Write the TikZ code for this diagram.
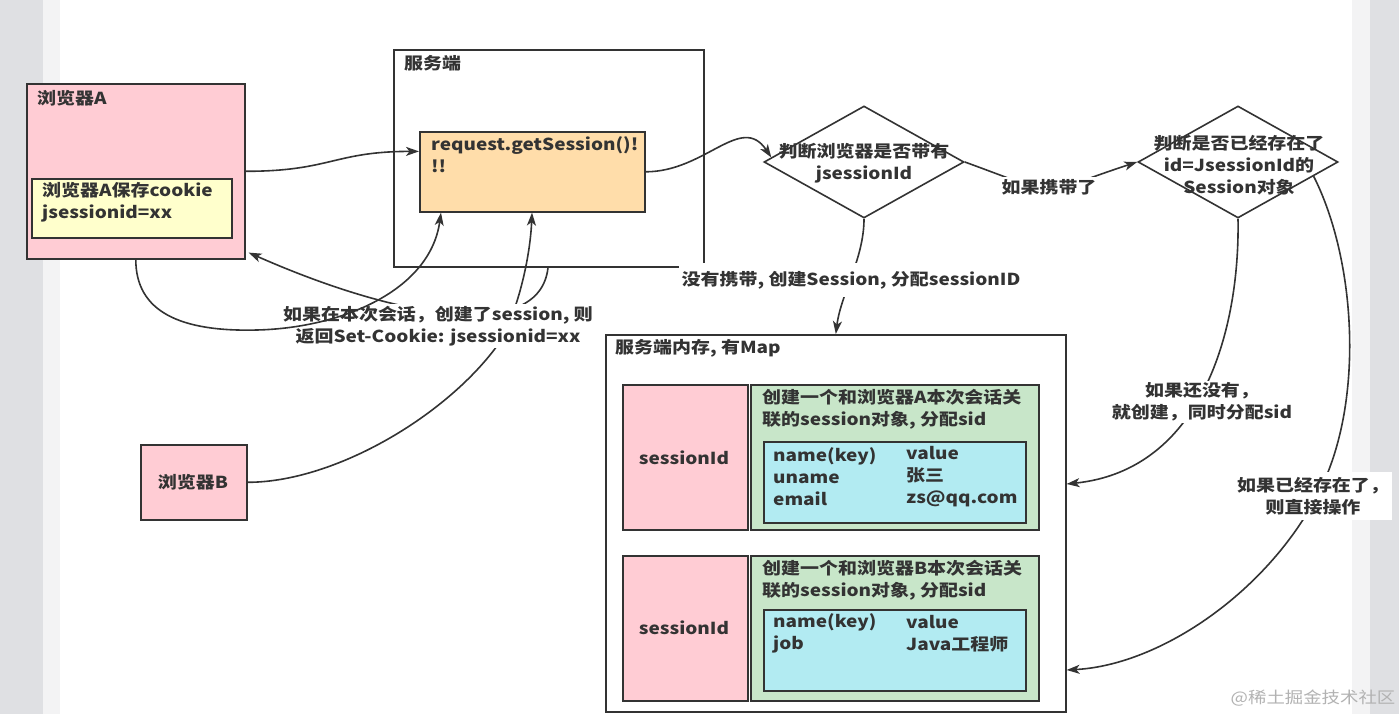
\documentclass[tikz,border=0pt]{standalone}
\usepackage{fontspec}
\setmainfont{Noto Sans CJK SC}[FakeStretch=1.15]
\usetikzlibrary{arrows.meta,calc,shapes.geometric}
\definecolor{lc}{HTML}{333333}
\definecolor{pinkf}{HTML}{FFCCD4}
\definecolor{yelf}{HTML}{FFFFCC}
\definecolor{orgf}{HTML}{FFDDAA}
\definecolor{grnf}{HTML}{C8E6C9}
\definecolor{cyaf}{HTML}{B2EBF2}
\definecolor{gstrip}{HTML}{DFE0E3}
\definecolor{lstrip}{HTML}{F3F3F4}
\begin{document}
\begin{tikzpicture}[x=1pt,y=-1pt,
  box/.style={draw=lc, line width=1.6pt, inner sep=0pt, anchor=north west},
  dia/.style={diamond, draw=lc, line width=1.6pt, fill=white, minimum width=200pt, minimum height=112pt, inner sep=0pt},
  txt/.style={inner sep=0pt, text=lc, font=\bfseries\fontsize{16.5}{22}\selectfont},
  lbl/.style={txt, fill=white, inner sep=2pt, align=center},
  arr/.style={draw=lc, line width=1.6pt, -{Stealth[length=13pt,width=9pt,inset=3.5pt]}}]
\useasboundingbox (0,0) rectangle (1399,714);
\fill[white] (0,0) rectangle (1399,714);
\fill[gstrip] (0,0) rectangle (43,714);
\fill[lstrip] (43,0) rectangle (60,714);
\fill[lstrip] (1352,0) rectangle (1370,714);
\fill[gstrip] (1370,0) rectangle (1399,714);

% boxes
\node[box, fill=pinkf, minimum width=218pt, minimum height=175pt] (bA) at (26,83) {};
\node[box, fill=yelf, minimum width=200pt, minimum height=59pt] (ck) at (31,178) {};
\node[box, minimum width=310pt, minimum height=217pt] (srv) at (393,49) {};
\node[box, fill=orgf, minimum width=225pt, minimum height=80pt] (req) at (419,131) {};
\node[box, fill=pinkf, minimum width=106pt, minimum height=75pt] (bB) at (140,444) {};
\node[dia] (d1) at (864,162) {};
\node[dia] (d2) at (1238,162) {};
\node[box, minimum width=460pt, minimum height=377pt] (mem) at (605,334) {};
\node[box, fill=pinkf, minimum width=125pt, minimum height=145pt] (p1) at (622,384) {};
\node[box, fill=grnf, minimum width=288pt, minimum height=145pt] (g1) at (750,384) {};
\node[box, fill=cyaf, minimum width=262pt, minimum height=81pt] (c1) at (763,441) {};
\node[box, fill=pinkf, minimum width=125pt, minimum height=145pt] (p2) at (622,555) {};
\node[box, fill=grnf, minimum width=288pt, minimum height=145pt] (g2) at (750,555) {};
\node[box, fill=cyaf, minimum width=262pt, minimum height=81pt] (c2) at (763,609) {};

% texts
\node[txt, anchor=west] (tA) at (37,98) {浏览器A};
\node[txt, anchor=west, align=left] (tck) at (42,202) {浏览器A保存cookie\\jsessionid=xx};
\node[txt, anchor=west] (tsrv) at (404,63) {服务端};
\node[txt, anchor=west, align=left] (treq) at (431,155) {request.getSession()!\\!!};
\node[txt, align=center] (td1) at (864,163) {判断浏览器是否带有\\jsessionId};
\node[txt, align=center] (td2) at (1239,165) {判断是否已经存在了\\id=JsessionId的\\Session对象};
\node[txt] (tB) at (193,482) {浏览器B};
\node[txt, anchor=west] (tmem) at (615,348) {服务端内存, 有Map};
\node[txt] (ts1) at (684,458) {sessionId};
\node[txt] (ts2) at (684,628) {sessionId};
\node[txt, anchor=west, align=left] (tg1) at (762,409) {创建一个和浏览器A本次会话关\\联的session对象, 分配sid};
\node[txt, anchor=west, align=left] (tk1) at (773,477) {name(key)\\uname\\email};
\node[txt, anchor=west, align=left] (tv1) at (906,477) {value\\张三\\zs@qq.com};
\node[txt, anchor=west, align=left] (tg2) at (762,580) {创建一个和浏览器B本次会话关\\联的session对象, 分配sid};
\node[txt, anchor=west, align=left] (tk2) at (773,633.5) {name(key)\\job};
\node[txt, anchor=west, align=left] (tv2) at (906,633.5) {value\\Java工程师};

% waypoints
\coordinate (wB) at (494,350);
\coordinate (wA) at (257,330);
\coordinate (w2) at (1320,490);

% connectors
\draw[arr] (bA.east) .. controls +(85,0) and +(-85,0) .. ($(req.north west)!0.25!(req.south west)$);
\draw[arr] (req.east) .. controls +(60,0) and +(-30,-45) .. ($(d1.west)!0.08!(d1.north)$);
\draw[arr] (d1.east) to[out=-20,in=198,looseness=1.6] (d2.west);
\draw[arr] (d1.south) .. controls +(0,40) and +(5,-40) .. (mem.north);
\draw[arr] (d2.south) .. controls +(2,112) and +(135,-14) .. ($(mem.north east)+(0,150)$);
\draw[arr] ($(d2.east)!0.25!(d2.south)$) .. controls +(42,83) and +(45,-90) .. (w2) .. controls +(-50,100) and +(95,-5) .. ($(mem.north east)+(0,336)$);
\draw[arr] ($(srv.south west)+(155,0)$) .. controls +(-8,74) and +(154,68) .. ($(bA.south east)+(3,-7)$);
\draw[arr] (bB.east) .. controls +(84,0) and +(-54,70) .. (wB) .. controls +(21,-27) and +(-2,49) .. ($(req.south west)+(113,0)$);

% labels
\node[lbl] (l1) at (1049,187) {如果携带了};
\node[lbl, inner xsep=3pt, inner ysep=8pt] (l2) at (851,280) {没有携带, 创建Session, 分配sessionID};
\node[lbl] (l3) at (1202,402) {如果还没有，\\就创建，同时分配sid};
\node[lbl, inner xsep=3pt, inner ysep=5pt] (l4) at (1313,496) {如果已经存在了，\\则直接操作};
\node[lbl] (l5) at (438,326) {如果在本次会话，创建了session, 则\\返回Set-Cookie: jsessionid=xx};

\draw[arr] (bA.south) .. controls +(0,52) and +(-77,2) .. (wA) .. controls +(83,-2) and +(-11,79) .. ($(req.south west)+(22,0)$);

\node[font=\fontsize{16}{18}\selectfont, text=black!30, inner sep=0pt] (wm) at (1313,698) {@稀土掘金技术社区};
\end{tikzpicture}
\end{document}
